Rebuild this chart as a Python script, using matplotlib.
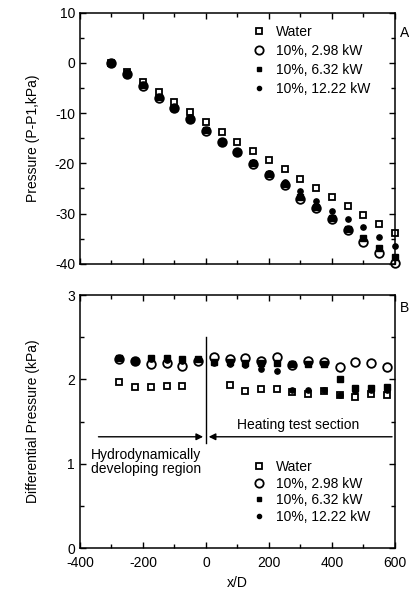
import numpy as np
from matplotlib import pyplot as plt
from matplotlib.lines import Line2D
from matplotlib.ticker import MultipleLocator

plt.rcParams['font.family'] = ['Liberation Sans', 'DejaVu Sans']
plt.rcParams['font.size'] = 10
plt.rcParams['axes.unicode_minus'] = False

# --- panel A: pressure along the tube
x_top = np.arange(-300, 601, 50)
water_top = [0, -1.9, -3.8, -5.7, -7.8, -9.7, -11.7, -13.7, -15.7, -17.5,
             -19.3, -21.2, -23.2, -25.0, -26.6, -28.5, -30.3, -32.1, -33.9]
kw298_top = [0, -2.2, -4.6, -6.9, -9.0, -11.2, -13.5, -15.8, -17.8, -20.1,
             -22.3, -24.4, -27.0, -28.9, -31.1, -33.3, -35.6, -37.8, -39.9]
kw632_top = [0, -2.2, -4.5, -6.8, -8.9, -11.1, -13.4, -15.7, -17.7, -20.0,
             -22.2, -24.2, -26.6, -28.7, -30.9, -33.1, -34.9, -36.9, -38.7]
kw1222_top = [0, -2.1, -4.4, -6.7, -8.8, -11.0, -13.3, -15.5, -17.6, -19.8,
              -21.9, -23.8, -25.6, -27.4, -29.4, -31.1, -32.7, -34.6, -36.5]

# --- panel B: differential pressure between taps
x_bot = np.arange(-275, 576, 50)
water_bot = [1.97, 1.91, 1.91, 1.92, 1.92, np.nan, np.nan, 1.93, 1.86, 1.89,
             1.89, 1.85, 1.83, 1.86, 1.81, 1.79, 1.83, 1.82]
kw298_bot = [2.24, 2.22, 2.18, 2.19, 2.16, 2.22, 2.27, 2.24, 2.26, 2.22,
             2.27, 2.17, 2.22, 2.21, 2.15, 2.21, 2.19, 2.15]
kw632_bot = [2.26, 2.22, 2.25, 2.25, 2.24, 2.24, 2.21, 2.21, 2.19, 2.19,
             2.20, 2.18, 2.18, 2.18, 2.00, 1.90, 1.90, 1.91]
kw1222_bot = [2.25, 2.22, 2.24, 2.23, 2.22, 2.24, 2.20, 2.18, 2.17, 2.12,
              2.10, 1.87, 1.88, 1.87, 1.82, 1.86, 1.87, 1.87]

labels = ['Water', '10%, 2.98 kW', '10%, 6.32 kW', '10%, 12.22 kW']

fig = plt.figure(figsize=(4.1, 6.01), dpi=100)
ax1 = fig.add_axes([0.195, 0.561, 0.768, 0.418])
ax2 = fig.add_axes([0.195, 0.088, 0.768, 0.421])


def draw(ax, x, w, a, b, c):
    kw = dict(ls='none', clip_on=False)
    ax.plot(x, w, marker='s', ms=4.5, mfc='none', mec='k', mew=1.3, **kw)
    ax.plot(x, a, marker='o', ms=6.2, mfc='none', mec='k', mew=1.3, **kw)
    ax.plot(x, b, marker='s', ms=4.0, mfc='k', mec='k', **kw)
    ax.plot(x, c, marker='o', ms=3.8, mfc='k', mec='k', **kw)


draw(ax1, x_top, water_top, kw298_top, kw632_top, kw1222_top)
draw(ax2, x_bot, water_bot, kw298_bot, kw632_bot, kw1222_bot)

handles = [
    Line2D([], [], ls='none', marker='s', ms=4.0, mfc='none', mec='k', mew=1.3),
    Line2D([], [], ls='none', marker='o', ms=6.0, mfc='none', mec='k', mew=1.3),
    Line2D([], [], ls='none', marker='s', ms=3.0, mfc='k', mec='k'),
    Line2D([], [], ls='none', marker='o', ms=3.0, mfc='k', mec='k'),
]
ax1.legend(handles, labels, loc='upper left', bbox_to_anchor=(0.545, 0.95),
           frameon=False, handlelength=1.0, handletextpad=0.75,
           labelspacing=0.35, borderaxespad=0, borderpad=0)
ax2.legend(handles, labels, loc='lower left', bbox_to_anchor=(0.545, 0.095),
           frameon=False, handlelength=1.0, handletextpad=0.75,
           labelspacing=0.2, borderaxespad=0, borderpad=0)

for ax in (ax1, ax2):
    ax.set_xlim(-400, 600)
    ax.xaxis.set_major_locator(MultipleLocator(200))
    ax.xaxis.set_minor_locator(MultipleLocator(100))
    ax.tick_params(which='both', direction='in', top=True, right=True)
    ax.tick_params(which='major', length=4, width=1)
    ax.tick_params(which='minor', length=3, width=1)
    for s in ax.spines.values():
        s.set_linewidth(1.1)

ax1.set_ylim(-40, 10)
ax1.yaxis.set_major_locator(MultipleLocator(10))
ax1.yaxis.set_minor_locator(MultipleLocator(5))
ax1.tick_params(labelbottom=False)

ax2.set_ylim(0, 3)
ax2.yaxis.set_major_locator(MultipleLocator(1))
ax2.yaxis.set_minor_locator(MultipleLocator(0.5))
ax2.tick_params(axis='x', pad=6)
ax2.set_xlabel('x/D', labelpad=4)

fig.text(0.08, 0.77, 'Pressure (P-P1,kPa)', rotation=90, ha='center', va='center')
fig.text(0.08, 0.30, 'Differential Pressure (kPa)', rotation=90, ha='center', va='center')
ax1.text(1.015, 0.92, 'A', transform=ax1.transAxes, ha='left', va='center')
ax2.text(1.015, 0.95, 'B', transform=ax2.transAxes, ha='left', va='center')

# heating section annotation
ax2.plot([0, 0], [1.25, 2.5], color='k', lw=1)
ax2.annotate('', xy=(0, 1.32), xytext=(-350, 1.32),
             arrowprops=dict(arrowstyle='-|>', color='k', lw=1, mutation_scale=10))
ax2.annotate('', xy=(0, 1.32), xytext=(600, 1.32),
             arrowprops=dict(arrowstyle='-|>', color='k', lw=1, mutation_scale=10))
ax2.text(100, 1.46, 'Heating test section', ha='left', va='center')
ax2.text(-365, 1.19, 'Hydrodynamically\ndeveloping region', ha='left', va='top',
         linespacing=1.0)

plt.savefig('out.png', dpi=100)
